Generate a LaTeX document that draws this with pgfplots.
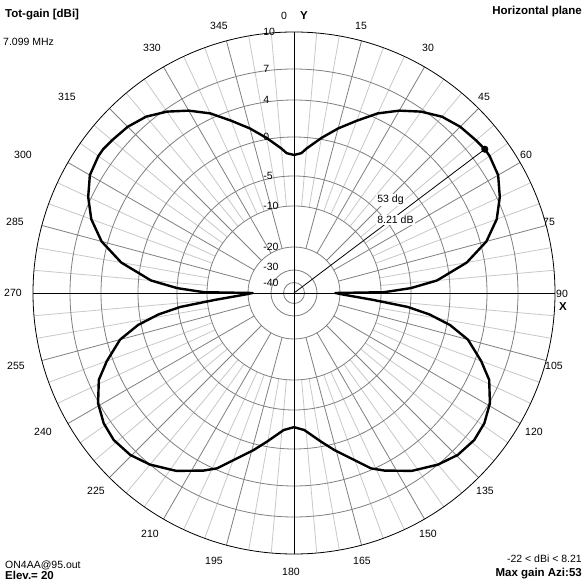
\documentclass[border=0pt]{standalone}
\usepackage{pgfplots}
\pgfplotsset{compat=1.18}
\usepackage{pgfplotstable}
\usepackage{fontspec}
\setmainfont{Liberation Sans}

% gain (dB) to radius (pt) on the compressed log scale of the grid
\pgfmathdeclarefunction{rmap}{1}{%
  \pgfmathparse{(#1>=7) ? (224+(#1-7)*37/3) :
     ((#1>=4) ? (193+(#1-4)*31/3) :
     ((#1>=0) ? (156+#1*37/4) :
     ((#1>=-5) ? (117+(#1+5)*39/5) :
     ((#1>=-10) ? (87+(#1+10)*6) :
     ((#1>=-20) ? (46+(#1+20)*4.1) :
     ((#1>=-30) ? (23+(#1+30)*2.3) : (10.5+(#1+40)*1.25)))))))}%
}

% Horizontal-plane gain pattern: azimuth (deg, clockwise from Y) and gain (dBi)
\pgfplotstableread{
az g
0 -2.3
3 -2.05
5 -1.4
10 0.15
15 1.55
20 2.95
25 4.5
30 5.7
35 6.75
40 7.5
45 7.9
50 8.1
53 8.21
55 8.2
60 7.95
65 7.25
70 6.2
75 4.6
80 2.1
85 -1.6
87.6 -5
89 -8.5
89.5 -9.6
90 -22
92 -19
95 -11.8
97 -5.4
99 -2.4
101.6 0.35
105 2.6
110 4.6
114 6.0
119.4 7.07
124.4 7.54
129.2 7.7
134.7 7.51
140 7.0
146.5 5.97
153 4.61
156.3 3.84
161 2.04
165.6 0.66
169.7 -0.63
175.7 -2.38
180 -2.8
184.3 -2.38
190.3 -0.63
194.4 0.66
199 2.04
203.7 3.84
207 4.61
213.5 5.97
220 7.0
225.3 7.51
230.8 7.7
235.6 7.54
240.6 7.07
246 6.0
250 4.6
255 2.6
258.4 0.35
261 -2.4
263 -5.4
265 -11.8
268 -19
270 -22
270.5 -9.6
271 -8.5
272.4 -5
275 -1.6
280 2.1
285 4.6
290 6.2
295 7.25
300 7.95
305 8.2
307 8.21
310 8.1
315 7.9
320 7.5
325 6.75
330 5.7
335 4.5
340 2.95
345 1.55
350 0.15
355 -1.4
357 -2.05
360 -2.3
}\pattern

% Maximum-gain marker line (s = 0 at the centre, 1 at the pattern)
\pgfplotstableread{
az g s
53 8.21 0
53 8.21 1
}\maxline

% plot positions on the grid
\pgfplotstablecreatecol[create col/expr={rmap(\thisrow{g})*sin(\thisrow{az})}]{X}\pattern
\pgfplotstablecreatecol[create col/expr={rmap(\thisrow{g})*cos(\thisrow{az})}]{Y}\pattern
\pgfplotstablecreatecol[create col/expr={\thisrow{s}*rmap(\thisrow{g})*sin(\thisrow{az})}]{X}\maxline
\pgfplotstablecreatecol[create col/expr={\thisrow{s}*rmap(\thisrow{g})*cos(\thisrow{az})}]{Y}\maxline

\definecolor{ringgray}{RGB}{128,128,128}
\definecolor{spokegray}{RGB}{200,200,200}

\newcommand{\lbl}{\fontsize{10.5}{12}\selectfont}
\newcommand{\blbl}{\fontsize{11.5}{13}\selectfont\bfseries}

\begin{document}
\begin{tikzpicture}
% background and polar grid (centre of the plot at 294pt,294pt)
\fill[white] (0,0) rectangle (587pt,587pt);
\begin{scope}[shift={(294pt,294pt)}, line width=0.8pt]
  \foreach \a in {5,10,20,25,35,40,50,55,65,70,80,85,95,100,110,115,125,130,140,145,155,160,170,175,185,190,200,205,215,220,230,235,245,250,260,265,275,280,290,295,305,310,320,325,335,340,350,355}
    \draw[spokegray] ({90-\a}:87pt) -- ({90-\a}:261pt);
  \foreach \a in {15,30,45,60,75,105,120,135,150,165,195,210,225,240,255,285,300,315,330,345}
    \draw[ringgray] ({90-\a}:46pt) -- ({90-\a}:261pt);
  \foreach \r in {224,193,156,117,87,46,23,10.5}
    \draw[ringgray] (0,0) circle[radius=\r pt];
  \draw[black] (0,0) circle[radius=261pt];
  \draw[black] (0,-261pt) -- (0,261pt);
  \draw[black] (-261pt,0) -- (261pt,0);
  % gain scale labels
  \foreach \v/\r in {10/261,7/224,4/193,0/156,-5/117,-10/87,-20/46,-30/26,-40/10}
    \node[anchor=west, inner sep=0pt, font=\lbl] at (-31pt,\r pt) {\v};
\end{scope}

\begin{axis}[
  at={(0,0)}, anchor=south west,
  scale only axis, width=587pt, height=587pt,
  xmin=-294, xmax=293, ymin=-294, ymax=293,
  hide axis, clip=false,
]
% pattern
\addplot[black, line width=2.4pt, line join=round] table[x=X, y=Y] {\pattern};
% maximum marker
\addplot[black, line width=0.8pt] table[x=X, y=Y] {\maxline};
\addplot[only marks, mark=*, mark size=3.3pt, black, skip coords between index={0}{1}] table[x=X, y=Y] {\maxline};
\end{axis}

\begin{scope}[shift={(294pt,294pt)}]
  \node[anchor=west, fill=white, inner sep=1.2pt, font=\lbl] at (82pt,93pt) {53 dg};
  \node[anchor=west, fill=white, inner sep=1.2pt, font=\lbl] at (82pt,73pt) {8.21 dB};
  % azimuth labels
  \foreach \t/\x/\y in {
    0/-10/277, 15/67/267, 30/134/245, 45/190/196, 60/232/138, 75/255/71,
    90/268/-1, 105/260/-73, 120/240/-139, 135/191/-198, 150/134/-241, 165/68/-268,
    180/-3/-279, 195/-80/-268, 210/-144/-241, 225/-198/-198, 240/-251/-139, 255/-278/-73,
    270/-281/0, 285/-279/71, 300/-271/138, 315/-227/196, 330/-142/245, 345/-75/267}
    \node[inner sep=0pt, font=\lbl] at (\x pt,\y pt) {\t};
  \node[inner sep=0pt, font=\blbl] at (10pt,277pt) {Y};
  \node[inner sep=0pt, font=\blbl] at (269pt,-14pt) {X};
  % corner texts
  \node[anchor=base west, inner sep=0pt, font=\blbl] at (-289pt,275pt) {Tot-gain [dBi]};
  \node[anchor=base west, inner sep=0pt, font=\lbl] at (-291pt,247pt) {7.099 MHz};
  \node[anchor=base east, inner sep=0pt, font=\blbl] at (288pt,278pt) {Horizontal plane};
  \node[anchor=base west, inner sep=0pt, font=\lbl] at (-289pt,-275pt) {ON4AA@95.out};
  \node[anchor=base west, inner sep=0pt, font=\blbl] at (-289pt,-287pt) {Elev.= 20};
  \node[anchor=base east, inner sep=0pt, font=\lbl] at (288pt,-270pt) {-22 < dBi < 8.21};
  \node[anchor=base east, inner sep=0pt, font=\blbl] at (288pt,-284pt) {Max gain Azi:53};
\end{scope}
\end{tikzpicture}
\end{document}
